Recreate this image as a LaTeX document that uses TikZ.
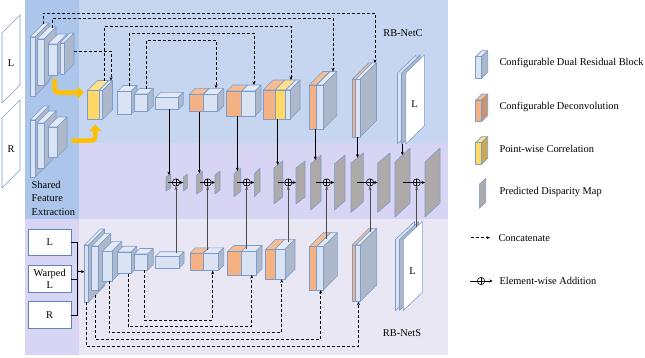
\documentclass[tikz,border=0pt]{standalone}
\usepackage{fontspec}
\setmainfont{Liberation Serif}
\usetikzlibrary{arrows.meta,calc}
\definecolor{bgtop}{HTML}{C6D6F0}
\definecolor{bgleft}{HTML}{ABC6EA}
\definecolor{bgmid}{HTML}{D8D5F4}
\definecolor{bgbot}{HTML}{E9E7F3}
\definecolor{edgeblue}{HTML}{7D9CC9}
\definecolor{boxblue}{HTML}{5F82B8}
\definecolor{dfront}{HTML}{DAE3F3}
\definecolor{dtop}{HTML}{E3EAF6}
\definecolor{dside}{HTML}{ADB9CA}
\definecolor{cfront}{HTML}{F4B183}
\definecolor{ctop}{HTML}{F6BD95}
\definecolor{cside}{HTML}{C9946E}
\definecolor{pfront}{HTML}{FFD966}
\definecolor{ptop}{HTML}{FFE08A}
\definecolor{pside}{HTML}{C9AA4B}
\definecolor{mapgray}{HTML}{AEAAAA}
\definecolor{arrowyel}{HTML}{FFC000}
\tikzset{
  blkedge/.style={
    draw=edgeblue,
    line width=0.6pt,
    line join=round
  },
  mapedge/.style={
    draw=edgeblue,
    fill=mapgray,
    line width=0.6pt,
    line join=round
  },
  inbox/.style={
    draw=boxblue,
    fill=white,
    line width=0.6pt,
    minimum width=42.7pt,
    minimum height=26.5pt,
    align=center,
    inner sep=0pt,
    font=\fontsize{10.4}{12.4}\selectfont
  },
  lbl/.style={
    inner sep=0pt,
    font=\fontsize{10.4}{12.5}\selectfont
  },
  addop/.style={
    circle,
    draw=black,
    line width=0.6pt,
    minimum size=7.4pt,
    inner sep=0pt,
    path picture={\draw[line width=0.6pt]
      (path picture bounding box.north) -- (path picture bounding box.south)
      (path picture bounding box.west) -- (path picture bounding box.east);}
  },
  feed/.style={
    -{Stealth[length=3.5pt,width=3pt]},
    line width=0.6pt
  },
  concat/.style={
    -{Stealth[length=3.5pt,width=3pt]},
    line width=0.7pt,
    dash pattern=on 3pt off 2pt
  },
  yelarrow/.style={
    draw=arrowyel,
    line width=4.5pt,
    -{Triangle[width=12pt,length=6.5pt]}
  }
}
\newcommand{\dcube}[8]{%
  \filldraw[blkedge, fill=#7] (#1,#2) -- ++(#5,-#5) -- ++(#3,0) -- ++(-#5,#5) -- cycle;
  \filldraw[blkedge, fill=#8] ({#1+#3},#2) -- ++(#5,-#5) -- ++(0,#4) -- ++(-#5,#5) -- cycle;
  \filldraw[blkedge, fill=#6] (#1,#2) rectangle ++(#3,#4);}
\newcommand{\resblk}[5]{\dcube{#1}{#2}{#3}{#4}{#5}{dfront}{dtop}{dside}}
\newcommand{\deconv}[5]{\dcube{#1}{#2}{#3}{#4}{#5}{cfront}{ctop}{dside}}
\newcommand{\corrblk}[5]{\dcube{#1}{#2}{#3}{#4}{#5}{pfront}{ptop}{dside}}
\newcommand{\imgplane}[6]{%
  \filldraw[blkedge, fill=#6] (#1,#2) -- ++(0,-#4) -- ++(#3,-#5) -- ++(0,#4) -- cycle;}
\newcommand{\dmap}[6]{%
  \filldraw[mapedge] (#2,{182.5+#5/2+#4/2}) coordinate (#1-bl) -- ++(0,-#4) coordinate (#1-tl)
    -- ++(#3,-#5) coordinate (#1-tr) -- ++(0,#4) coordinate (#1-br) -- cycle;
  \coordinate (#1-c) at ({#2+#3/2},182.5);
  \coordinate (#1-in) at (#6,{182.5+#5/2-#4/2-#5*(#6-#2)/#3});}
\begin{document}
\begin{tikzpicture}[x=1pt, y=-1pt]
  \useasboundingbox (0,0) rectangle (645,357);
  \fill[bgtop] (79,0) rectangle (448,143);
  \fill[bgmid] (79,143) rectangle (448,219);
  \fill[bgbot] (79,219) rectangle (448,355);
  \fill[bgleft] (25,0) rectangle (79,219);
  \fill[bgmid] (25,219) rectangle (79,355);

  \imgplane{2}{103}{18}{70}{18}{white}
  \imgplane{2}{188}{18}{70}{18}{white}
  \node[lbl] (inL) at (11,63) {L};
  \node[lbl] (inR) at (11,149) {R};

  \resblk{30}{37}{5}{59}{14}
  \resblk{37}{39}{7}{46}{12}
  \resblk{48}{44}{9}{31}{10}
  \resblk{60}{43}{4}{31}{10}
  \resblk{30}{120}{5}{57}{14}
  \resblk{37}{123}{7}{45}{12}
  \resblk{48}{127}{9}{30}{10}
  \node[lbl, align=left, anchor=west, font=\fontsize{10.4}{13.3}\selectfont] (sfe) at (31.5,198.3) {Shared\\Feature\\Extraction};

  \coordinate (ya1) at (54.5,79);
  \coordinate (ya2) at (84,92.5);
  \coordinate (ya3) at (71.5,140.5);
  \coordinate (ya4) at (95.3,124.5);
  \draw[yelarrow] (ya1) -- (54.5,85) .. controls (54.5,92.5) .. (62,92.5) -- (ya2);
  \draw[yelarrow] (ya3) -- (87,140.5) .. controls (95.3,140.5) .. (95.3,133) -- (ya4);

  \corrblk{87.5}{90.5}{11.5}{29}{10}
  \resblk{99}{90.5}{3.5}{29}{10}
  \resblk{117.3}{91.5}{13.7}{23}{6}
  \resblk{134.3}{94}{13.4}{17.5}{5.5}
  \resblk{155.7}{97.3}{22.6}{12}{5}
  \deconv{189.3}{94.3}{14}{17.4}{6}
  \resblk{203.3}{94.3}{14.4}{17.4}{6}
  \deconv{226.7}{91}{15}{25}{6}
  \resblk{241.7}{91}{13.3}{25}{6}
  \deconv{263.3}{90}{11.7}{29.3}{10}
  \corrblk{275}{90}{10.7}{29.3}{10}
  \resblk{285.7}{90}{4.3}{29.3}{10}
  \deconv{309.3}{85}{7.3}{44}{13.5}
  \resblk{316.6}{85}{6.7}{44}{13.5}
  \deconv{352.3}{79.3}{3.4}{57.7}{16.5}
  \resblk{355.7}{79.3}{4.3}{57.7}{16.5}
  \imgplane{397.5}{144}{18.6}{71}{18}{dfront}
  \imgplane{401.5}{144}{18.6}{71}{18}{dside}
  \imgplane{405.7}{144}{18.6}{71}{18}{white}
  \node[lbl] (outC) at (414.5,104) {L};
  \node[lbl] (netC) at (403,33) {RB-NetC};

  \node[inbox] (inbL) at (49.7,242.5) {L};
  \node[inbox] (inbW) at (49.7,279) {Warped\\L};
  \node[inbox] (inbR) at (49.7,315) {R};
  \coordinate (brk) at (77.3,271.7);
  \coordinate (b1in) at (84.5,271.7);
  \draw[line width=0.6pt] (inbL.east) -| (brk |- inbR.east) -- (inbR.east);
  \draw[line width=0.6pt] (inbW.east) -- (inbW.east -| brk);
  \draw[feed] (brk) -- (b1in);

  \resblk{84.5}{245}{4}{57}{16}
  \resblk{91.7}{246}{6.6}{44.5}{12.4}
  \resblk{102.3}{251.3}{9.6}{29.7}{10}
  \resblk{117.4}{252}{13.6}{21.5}{5.8}
  \resblk{134.3}{254}{13.4}{16}{5.5}
  \resblk{155}{256.7}{24}{11.6}{5}
  \deconv{190}{253.3}{13.3}{17.4}{5.5}
  \resblk{203.3}{253.3}{15}{17.4}{5.5}
  \deconv{227.7}{251.5}{14}{23.5}{6}
  \resblk{241.7}{251.5}{14.3}{23.5}{6}
  \deconv{265.7}{249.3}{9.3}{30}{10}
  \resblk{275}{249.3}{10}{30}{10}
  \deconv{309.3}{246.7}{7.4}{43.3}{14}
  \resblk{316.7}{246.7}{6.6}{43.3}{14}
  \deconv{352.3}{245}{3.4}{56.7}{16.7}
  \resblk{355.7}{245}{4.3}{56.7}{16.7}
  \imgplane{395.5}{310.5}{19}{71}{18}{dfront}
  \imgplane{399.5}{310.5}{19}{71}{18}{dside}
  \imgplane{403.3}{310.5}{19}{71}{18}{white}
  \node[lbl] (outS) at (412.5,271) {L};
  \node[lbl] (netS) at (402,333) {RB-NetS};

  \coordinate (s1t) at (43,24);
  \coordinate (s2t) at (52,27.5);
  \coordinate (s4r) at (74,51);
  \coordinate (t1t) at (104,80.5);
  \coordinate (t1in) at (111,80.5);
  \coordinate (t2t) at (129,85.5);
  \coordinate (t3t) at (146,88.5);
  \coordinate (t5t) at (216,88.3);
  \coordinate (t6t) at (254,85);
  \coordinate (t7t) at (291,80);
  \coordinate (t8t) at (333,71.5);
  \coordinate (t9t) at (375,63);
  \draw[concat] (s1t) -- (s1t |- 0,13) -| (t9t);
  \draw[concat] (s2t) -- (s2t |- 0,18) -| (t8t);
  \draw[concat] (t1t) -- (t1t |- 0,26) -| (t7t);
  \draw[concat] (t2t) -- (t2t |- 0,33) -| (t6t);
  \draw[concat] (t3t) -- (t3t |- 0,40) -| (t5t);
  \draw[concat] (s4r) -| (t1in);

  \coordinate (b1b) at (86,302);
  \coordinate (b2b) at (95.7,295);
  \coordinate (b3b) at (109,281);
  \coordinate (b4b) at (128.3,273.5);
  \coordinate (b5b) at (144.3,270);
  \coordinate (b7b) at (212.7,270.7);
  \coordinate (b8b) at (251.7,275);
  \coordinate (b9b) at (281.7,279.3);
  \coordinate (b10b) at (320.7,290);
  \coordinate (b11b) at (358.5,301.7);
  \draw[concat] (b5b) -- (b5b |- 0,320) -| (b7b);
  \draw[concat] (b4b) -- (b4b |- 0,326.7) -| (b8b);
  \draw[concat] (b3b) -- (b3b |- 0,332.7) -| (b9b);
  \draw[concat] (b2b) -- (b2b |- 0,339.3) -| (b10b);
  \draw[concat] (b1b) -- (b1b |- 0,346) -| (b11b);

  \dmap{a1}{166}{4.7}{14}{3}{169}
  \dmap{m1}{183.3}{4}{14}{3}{184}
  \dmap{a2}{196.7}{5.6}{19}{4}{199.3}
  \dmap{m2}{215}{5}{19}{4}{216}
  \dmap{a3}{234}{6.7}{23}{5.5}{237.3}
  \dmap{m3}{254.3}{5.7}{23}{5.5}{255}
  \dmap{a4}{274}{8.7}{36}{7}{277.7}
  \dmap{m4}{296}{9}{36}{7}{297}
  \dmap{a5}{310.7}{10.3}{46}{9}{315.3}
  \dmap{m5}{334.3}{10.7}{46}{9}{335}
  \dmap{a6}{351}{12.3}{49}{10.5}{357.5}
  \dmap{m6}{377.7}{12.3}{49}{10.5}{378}
  \dmap{a7}{395}{15}{55}{14}{402.3}
  \dmap{m7}{425}{15}{55}{14}{426}

  \node[addop] (add1) at (176,182.5) {};
  \node[addop] (add2) at (207.7,182.5) {};
  \node[addop] (add3) at (246.7,182.5) {};
  \node[addop] (add4) at (288.3,182.5) {};
  \node[addop] (add5) at (326.7,182.5) {};
  \node[addop] (add6) at (370,182.5) {};
  \node[addop] (add7) at (416.7,182.5) {};
  \foreach \k in {1,...,7} {
    \draw[line width=0.6pt] (a\k-c) -- (add\k);
    \draw[feed] (add\k) -- (m\k-bl |- add\k);
  }

  \coordinate (t4o) at (169,109.3);
  \coordinate (t5o) at (199.3,111.7);
  \coordinate (t6o) at (237.3,116);
  \coordinate (t7o) at (277.7,119.3);
  \coordinate (t8o) at (315.3,129);
  \coordinate (t9o) at (357.5,137);
  \coordinate (t10o) at (402.3,143.5);
  \draw[feed] (t4o) -- (a1-in);
  \draw[feed] (t5o) -- (a2-in);
  \draw[feed] (t6o) -- (a3-in);
  \draw[feed] (t7o) -- (a4-in);
  \draw[feed] (t8o) -- (a5-in);
  \draw[feed] (t9o) -- (a6-in);
  \draw[feed] (t10o) -- (a7-in);

  \coordinate (b6o) at (176,253);
  \coordinate (b7o) at (207.7,250);
  \coordinate (b8o) at (246.7,248.5);
  \coordinate (b9o) at (288.3,242);
  \coordinate (b10o) at (326.7,239);
  \coordinate (b11o) at (370,232);
  \coordinate (b12o) at (416.7,227);
  \draw[feed, draw=black!70] (b6o) -- (add1);
  \draw[feed, draw=black!70] (b7o) -- (add2);
  \draw[feed, draw=black!70] (b8o) -- (add3);
  \draw[feed, draw=black!70] (b9o) -- (add4);
  \draw[feed, draw=black!70] (b10o) -- (add5);
  \draw[feed, draw=black!70] (b11o) -- (add6);
  \draw[feed, draw=black!70] (b12o) -- (add7);

  \resblk{475.7}{56.7}{6}{21.6}{6}
  \dcube{475.7}{100}{6}{21.6}{6}{cfront}{ctop}{cside}
  \dcube{475.7}{142.7}{6}{21.6}{6}{pfront}{ptop}{pside}
  \filldraw[mapedge] (479.3,208.3) -- ++(0,-24) -- ++(6.4,-6) -- ++(0,24) -- cycle;
  \coordinate (lgc1) at (470.7,237.7);
  \coordinate (lgc2) at (490,237.7);
  \draw[concat] (lgc1) -- (lgc2);
  \coordinate (lga1) at (470,281);
  \coordinate (lga2) at (492.7,281);
  \node[addop] (lgadd) at (481,281) {};
  \draw[line width=0.6pt] (lga1) -- (lgadd);
  \draw[feed] (lgadd) -- (lga2);
  \node[lbl, anchor=west] (lg1) at (499.3,63.3) {Configurable Dual Residual Block};
  \node[lbl, anchor=west] (lg2) at (499.3,106.7) {Configurable Deconvolution};
  \node[lbl, anchor=west] (lg3) at (499.3,149) {Point-wise Correlation};
  \node[lbl, anchor=west] (lg4) at (499.3,192.3) {Predicted Disparity Map};
  \node[lbl, anchor=west] (lg5) at (498.3,237.7) {Concatenate};
  \node[lbl, anchor=west] (lg6) at (499.3,281) {Element-wise Addition};
\end{tikzpicture}
\end{document}
